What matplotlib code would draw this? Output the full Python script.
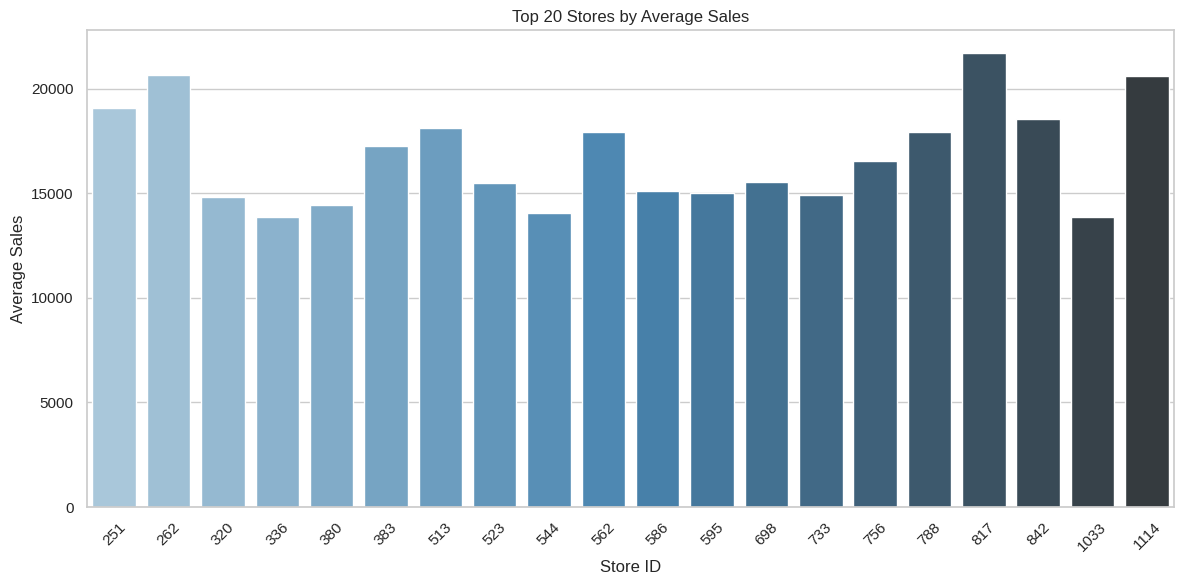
import matplotlib
matplotlib.use("Agg")
import matplotlib.pyplot as plt
import seaborn as sns

store_ids = ["251", "262", "320", "336", "380", "383", "513", "523", "544", "562",
             "586", "595", "698", "733", "756", "788", "817", "842", "1033", "1114"]
avg_sales = [19090, 20670, 14810, 13850, 14440, 17260, 18130, 15480, 14050, 17930,
             15100, 15000, 15530, 14920, 16540, 17930, 21730, 18570, 13850, 20630]

sns.set_theme(style="whitegrid")
plt.rcParams['font.family'] = ['Liberation Sans', 'DejaVu Sans']

fig, ax = plt.subplots(figsize=(11.84, 5.84), dpi=100)
sns.barplot(x=store_ids, y=avg_sales, hue=store_ids, palette="Blues_d", legend=False, ax=ax)
ax.set_title("Top 20 Stores by Average Sales")
ax.set_xlabel("Store ID")
ax.set_ylabel("Average Sales")
plt.setp(ax.get_xticklabels(), rotation=45)
fig.subplots_adjust(left=0.0735, right=0.9916, top=0.9486, bottom=0.1318)
fig.savefig("out.png", dpi=100)
plt.close(fig)
